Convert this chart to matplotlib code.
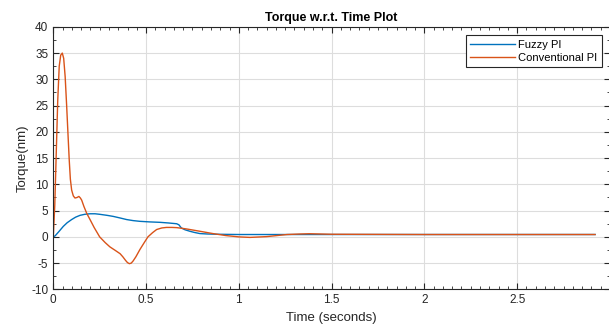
import matplotlib.pyplot as plt
from matplotlib.ticker import MultipleLocator

plt.rcParams['font.family'] = ['Liberation Sans', 'DejaVu Sans']
plt.rcParams['axes.unicode_minus'] = False

# Fuzzy PI response
t_fuzzy = [0.0, 0.01, 0.03, 0.054, 0.075, 0.099, 0.12, 0.144, 0.17, 0.198, 0.225,
           0.25, 0.29, 0.323, 0.36, 0.395, 0.43, 0.467, 0.52, 0.575, 0.62, 0.665,
           0.677, 0.69, 0.71, 0.736, 0.76, 0.79, 0.83, 0.88, 1.0, 1.5, 2.0, 2.5, 2.92]
tq_fuzzy = [0.0, 0.2, 1.0, 2.0, 2.7, 3.3, 3.75, 4.1, 4.3, 4.4, 4.4,
            4.3, 4.1, 3.9, 3.6, 3.3, 3.1, 2.96, 2.85, 2.77, 2.65, 2.5,
            2.3, 1.7, 1.35, 1.07, 0.85, 0.63, 0.55, 0.5, 0.45, 0.45, 0.45, 0.45, 0.45]

# Conventional PI response
t_conv = [0.0, 0.008, 0.016, 0.024, 0.032, 0.04, 0.0485, 0.056, 0.064, 0.072, 0.08,
          0.086, 0.092, 0.099, 0.108, 0.117, 0.128, 0.138, 0.146, 0.153, 0.165, 0.18,
          0.198, 0.22, 0.25, 0.28, 0.305, 0.335, 0.36, 0.375, 0.39, 0.4, 0.41, 0.42,
          0.43, 0.445, 0.467, 0.49, 0.51, 0.535, 0.557, 0.585, 0.61, 0.64, 0.665,
          0.69, 0.72, 0.79, 0.86, 0.93, 1.0, 1.06, 1.15, 1.26, 1.33, 1.38, 1.5,
          2.0, 2.5, 2.92]
tq_conv = [0.0, 6.0, 16.0, 26.0, 32.5, 34.6, 35.0, 34.0, 30.5, 25.0, 19.0,
           14.6, 11.0, 8.9, 7.8, 7.4, 7.5, 7.7, 7.4, 7.0, 5.8, 4.5,
           3.3, 1.8, 0.0, -1.1, -1.9, -2.6, -3.2, -3.8, -4.5, -4.9, -5.1, -5.0,
           -4.6, -3.8, -2.4, -1.1, 0.0, 0.8, 1.4, 1.7, 1.8, 1.8, 1.76,
           1.65, 1.5, 1.07, 0.63, 0.25, 0.0, -0.1, 0.05, 0.45, 0.55, 0.6, 0.5,
           0.45, 0.45, 0.45]

fig = plt.figure(figsize=(6.09, 3.27), dpi=100)
ax = fig.add_axes([0.0875, 0.115, 0.914, 0.803])

ax.plot(t_fuzzy, tq_fuzzy, color='#0072BD', lw=1.0, label='Fuzzy PI')
ax.plot(t_conv, tq_conv, color='#D95319', lw=1.0, label='Conventional PI')

ax.set_xlim(0, 3)
ax.set_ylim(-10, 40)
ax.xaxis.set_minor_locator(MultipleLocator(0.05))
ax.yaxis.set_major_locator(MultipleLocator(5))
ax.yaxis.set_minor_locator(MultipleLocator(2.5))
ax.set_xticks([0, 0.5, 1, 1.5, 2, 2.5, 3])
ax.set_xticklabels(['0', '0.5', '1', '1.5', '2', '2.5', ''])

ax.grid(True, which='major', color='#dddddd', lw=0.8)
ax.tick_params(which='both', direction='in', top=True, right=True,
               colors='#262626', labelsize=8.5)
ax.tick_params(which='major', length=4)
ax.tick_params(which='minor', length=2.5)
for s in ax.spines.values():
    s.set_color('#262626')
    s.set_linewidth(0.8)

ax.set_title('Torque w.r.t. Time Plot', fontsize=9, fontweight='bold', pad=4)
ax.set_xlabel('Time (seconds)', fontsize=9.5, color='#262626', labelpad=4)
ax.set_ylabel('Torque(nm)', fontsize=9.5, color='#262626', labelpad=2)

leg = ax.legend(loc='upper right', fontsize=8, fancybox=False, framealpha=1,
                edgecolor='#262626', borderpad=0.4, labelspacing=0.3,
                handlelength=4.0, handletextpad=0.3, borderaxespad=0.75)
leg.get_frame().set_linewidth(0.8)

fig.savefig('out.png', dpi=100)
